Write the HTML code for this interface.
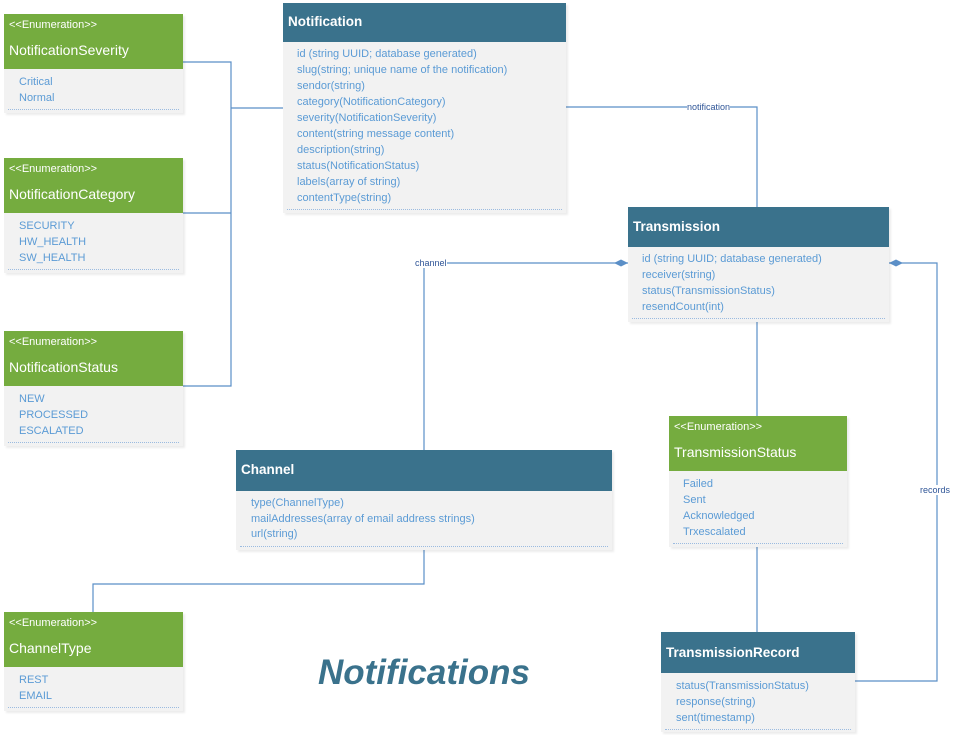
<!DOCTYPE html>
<html><head><meta charset="utf-8"><style>
body{margin:0;width:960px;height:735px;background:#fff;position:relative;overflow:hidden;font-family:"Liberation Sans",sans-serif}
.b{position:absolute;background:#f2f2f2;box-shadow:2px 2px 2px rgba(0,0,0,0.08)}
.g{background:#75ac3f;color:#fff;position:relative}
.g .s{position:absolute;left:5px;top:5px;font-size:11px}
.g .n{position:absolute;left:5px;top:28px;font-size:14px}
.h{background:#3a728c;color:#fff;font-weight:bold;font-size:13.5px;position:relative}
.h span{position:absolute;left:5px}
.it{color:#5b9bd5;font-size:11px;line-height:16px;white-space:nowrap;border-bottom:1px dotted #9bbbe0;margin:0 4px;padding-bottom:3px}
svg{position:absolute;left:0;top:0}
.lb{position:absolute;font-size:9px;color:#2f5597;background:#fff;line-height:10px}
</style></head><body>
<svg width="960" height="735"><g stroke="#5b8fc7" stroke-width="1.2" fill="none">
<path d="M183 62H231V386H183M183 213H231M231 108H283"/>
<path d="M566 107H757V207"/>
<path d="M424 450V263H628"/>
<path d="M757 322V416M757 543V632"/>
<path d="M889 263H937V681H855"/>
<path d="M424 548V584H93V612"/>
</g>
<g fill="#5b8fc7"><path d="M614 263l7-3.5 7 3.5-7 3.5z"/><path d="M889 263l7-3.5 7 3.5-7 3.5z"/></g></svg>

<div class="b" style="left:4px;top:14px;width:179px"><div class="g" style="height:55px"><div class="s">&lt;&lt;Enumeration&gt;&gt;</div><div class="n">NotificationSeverity</div></div><div class="it" style="padding:5px 0 3px 11px">Critical<br>Normal</div><div style="height:3px"></div></div>
<div class="b" style="left:4px;top:158px;width:179px"><div class="g" style="height:55px"><div class="s">&lt;&lt;Enumeration&gt;&gt;</div><div class="n">NotificationCategory</div></div><div class="it" style="padding:5px 0 3px 11px">SECURITY<br>HW_HEALTH<br>SW_HEALTH</div><div style="height:3px"></div></div>
<div class="b" style="left:4px;top:331px;width:179px"><div class="g" style="height:55px"><div class="s">&lt;&lt;Enumeration&gt;&gt;</div><div class="n">NotificationStatus</div></div><div class="it" style="padding:5px 0 3px 11px">NEW<br>PROCESSED<br>ESCALATED</div><div style="height:3px"></div></div>
<div class="b" style="left:4px;top:612px;width:179px"><div class="g" style="height:55px"><div class="s">&lt;&lt;Enumeration&gt;&gt;</div><div class="n">ChannelType</div></div><div class="it" style="padding:5px 0 3px 11px">REST<br>EMAIL</div><div style="height:3px"></div></div>
<div class="b" style="left:669px;top:416px;width:178px"><div class="g" style="height:55px"><div class="s">&lt;&lt;Enumeration&gt;&gt;</div><div class="n">TransmissionStatus</div></div><div class="it" style="padding:5px 0 3px 10px">Failed<br>Sent<br>Acknowledged<br>Trxescalated</div><div style="height:3px"></div></div>

<div class="b" style="left:283px;top:3px;width:283px"><div class="h" style="height:39px"><span style="top:11px">Notification</span></div><div class="it" style="padding:4px 0 3px 10px">id (string UUID; database generated)<br>slug(string; unique name of the notification)<br>sendor(string)<br>category(NotificationCategory)<br>severity(NotificationSeverity)<br>content(string message content)<br>description(string)<br>status(NotificationStatus)<br>labels(array of string)<br>contentType(string)</div><div style="height:3px"></div></div>
<div class="b" style="left:628px;top:207px;width:261px"><div class="h" style="height:40px"><span style="top:12px">Transmission</span></div><div class="it" style="padding:4px 0 3px 10px">id (string UUID; database generated)<br>receiver(string)<br>status(TransmissionStatus)<br>resendCount(int)</div><div style="height:3px"></div></div>
<div class="b" style="left:236px;top:450px;width:376px"><div class="h" style="height:41px"><span style="top:12px">Channel</span></div><div class="it" style="padding:5px 0 3px 11px;line-height:15.5px">type(ChannelType)<br>mailAddresses(array of email address strings)<br>url(string)</div><div style="height:3px"></div></div>
<div class="b" style="left:661px;top:632px;width:194px"><div class="h" style="height:41px"><span style="top:13px">TransmissionRecord</span></div><div class="it" style="padding:5px 0 3px 11px">status(TransmissionStatus)<br>response(string)<br>sent(timestamp)</div><div style="height:2px"></div></div>

<div class="lb" style="left:687px;top:102px">notification</div>
<div class="lb" style="left:415px;top:258px">channel</div>
<div class="lb" style="left:920px;top:485px">records</div>
<div style="position:absolute;left:318px;top:653px;font-size:35px;font-weight:bold;font-style:italic;color:#3a728c">Notifications</div>
</body></html>
